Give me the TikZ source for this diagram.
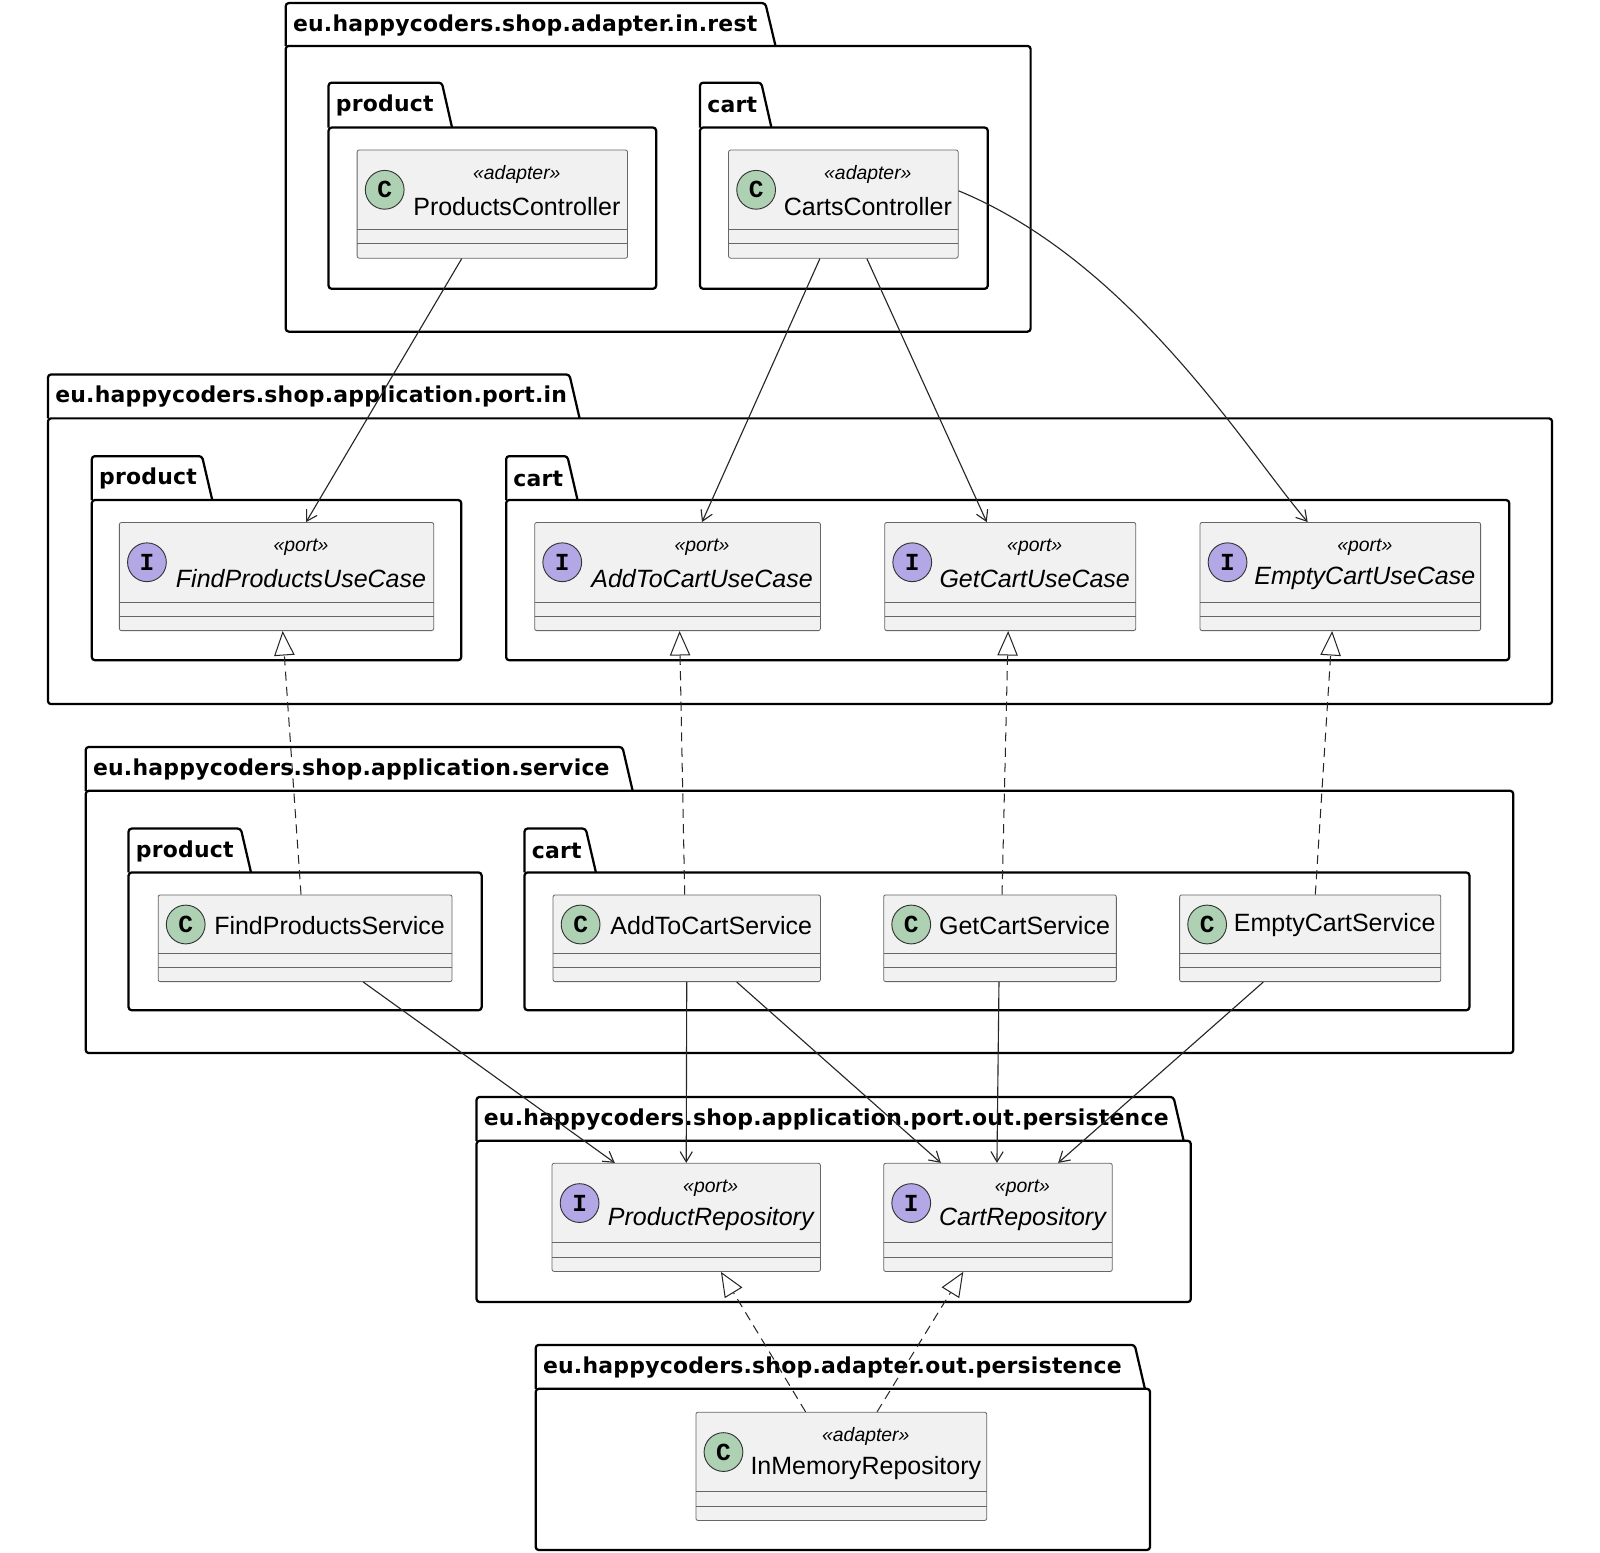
\documentclass[tikz,border=0pt]{standalone}
\usepackage{fontspec}
\setmainfont{Liberation Sans}
\newfontfamily\pkgfont[LetterSpace=1]{DejaVu Sans}
\newfontfamily\monofont{Liberation Mono}
\usetikzlibrary{arrows.meta,calc}
\definecolor{cfill}{HTML}{F1F1F1}
\definecolor{cC}{HTML}{ADD1B2}
\definecolor{cI}{HTML}{B4A7E5}
\tikzset{
 cls/.style={draw=black!60,fill=cfill,rounded corners=2pt,line width=0.8pt,inner sep=0},
 pk/.style={line width=2.2pt,rounded corners=3pt},
 dep/.style={-{Straight Barb[length=10pt,width=12pt]},line width=1.1pt,black!85},
 real/.style={-{Triangle[open,length=24pt,width=20pt]},dash pattern=on 9pt off 6pt,line width=1pt,black!85},
 spot/.style={circle,draw=black!80,line width=0.9pt,minimum size=38pt,inner sep=0,font=\fontsize{24}{24}\monofont\bfseries\selectfont},
}
\newcommand\pkg[7]{%
 \draw[pk] (#1,#4) -- (#1,#2) -- (#3-10,#2) -- (#3,#4);
 \draw[pk] (#1,#4) rectangle (#5,#6);
 \node[anchor=west,font=\fontsize{21.5}{21.5}\pkgfont\bfseries\selectfont,inner sep=0] at (#1+7,#2+22) {#7};
}
\newcommand\clsS[8]{%
 \pgfmathsetmacro\cx{(#2+#4)/2}\pgfmathsetmacro\cy{(#3+#5)/2}
 \pgfmathsetmacro\w{#4-#2}\pgfmathsetmacro\h{#5-#3}
 \pgfmathsetmacro\tx{(#2+48+#4)/2}
 \node[cls,minimum width=\w pt,minimum height=\h pt] (#1) at (\cx,\cy) {};
 \draw[black!60,line width=0.8pt] (#2,#5-28) -- (#4,#5-28) (#2,#5-14) -- (#4,#5-14);
 \node[spot,fill=c#6] at (#2+27,#3+39) {#6};
 \node[font=\fontsize{19}{19}\itshape\selectfont,inner sep=0] at (\tx,#3+24) {«#7»};
 \node[font=\fontsize{24.5}{24.5}\selectfont,inner sep=0] at (\tx,#3+55) {#8};
}
\newcommand\clsP[6]{%
 \pgfmathsetmacro\cx{(#2+#4)/2}\pgfmathsetmacro\cy{(#3+#5)/2}
 \pgfmathsetmacro\w{#4-#2}\pgfmathsetmacro\h{#5-#3}
 \pgfmathsetmacro\tx{(#2+48+#4)/2}
 \node[cls,minimum width=\w pt,minimum height=\h pt] (#1) at (\cx,\cy) {};
 \draw[black!60,line width=0.8pt] (#2,#5-28) -- (#4,#5-28) (#2,#5-14) -- (#4,#5-14);
 \node[spot,fill=cC] at (#2+27,#3+29) {C};
 \node[font=\fontsize{24.5}{24.5}\selectfont,inner sep=0] at (\tx,#3+30) {#6};
}
\begin{document}
\begin{tikzpicture}[x=1pt,y=-1pt]
\useasboundingbox[fill=white] (0,0) rectangle (1568,1521);
% packages
\pkg{280}{3}{760}{45}{1010}{325}{eu.happycoders.shop.adapter.in.rest}
\pkg{322}{81}{443}{125}{643}{283}{product}
\pkg{686}{81}{756}{125}{968}{283}{cart}
\pkg{47}{367}{568}{410}{1521}{690}{eu.happycoders.shop.application.port.in}
\pkg{90}{447}{208}{490}{452}{647}{product}
\pkg{496}{447}{566}{490}{1479}{647}{cart}
\pkg{84}{732}{620}{775}{1483}{1032}{eu.happycoders.shop.application.service}
\pkg{126}{812}{246}{855}{472}{990}{product}
\pkg{514}{812}{584}{855}{1440}{990}{cart}
\pkg{467}{1075}{1160}{1118}{1167}{1276}{eu.happycoders.shop.application.port.out.persistence}
\pkg{525}{1318}{1122}{1361}{1127}{1519}{eu.happycoders.shop.adapter.out.persistence}
% classes
\clsS{pc}{350}{147}{615}{253}{C}{adapter}{ProductsController}
\clsS{cc}{714}{147}{939}{253}{C}{adapter}{CartsController}
\clsS{fpu}{117}{512}{425}{618}{I}{port}{\itshape FindProductsUseCase}
\clsS{acu}{524}{512}{804}{618}{I}{port}{\itshape AddToCartUseCase}
\clsS{gcu}{867}{512}{1113}{618}{I}{port}{\itshape GetCartUseCase}
\clsS{ecu}{1176}{512}{1451}{618}{I}{port}{\itshape EmptyCartUseCase}
\clsP{fps}{155}{877}{443}{962}{FindProductsService}
\clsP{acs}{542}{877}{804}{962}{AddToCartService}
\clsP{gcs}{866}{877}{1094}{962}{GetCartService}
\clsP{ecs}{1156}{877}{1412}{962}{EmptyCartService}
\clsS{pr}{541}{1140}{804}{1246}{I}{port}{\itshape ProductRepository}
\clsS{cr}{866}{1140}{1090}{1246}{I}{port}{\itshape CartRepository}
\clsS{imr}{682}{1384}{967}{1490}{C}{adapter}{InMemoryRepository}
% dependencies
\draw[dep] ([xshift=-30pt]pc.south) -- ([xshift=29pt]fpu.north);
\draw[dep] ([xshift=-23pt]cc.south) -- ([xshift=24pt]acu.north);
\draw[dep] ([xshift=23pt]cc.south) -- ([xshift=-23pt]gcu.north);
\draw[dep] ([yshift=13pt]cc.east) .. controls +(170,70) and +(-60,-70) .. ([xshift=-32pt]ecu.north);
% realizations
\draw[real] ([xshift=-4pt]fps.north) -- ([xshift=6pt]fpu.south);
\draw[real] ([xshift=-2pt]acs.north) -- ([xshift=2pt]acu.south);
\draw[real] ([xshift=2pt]gcs.north) -- ([xshift=-2pt]gcu.south);
\draw[real] ([xshift=5pt]ecs.north) -- ([xshift=-8pt]ecu.south);
% to repositories
\draw[dep] ([xshift=57pt]fps.south) -- ([xshift=-70pt]pr.north);
\draw[dep] ([xshift=0pt]acs.south) -- ([xshift=0pt]pr.north);
\draw[dep] ([xshift=49pt]acs.south) -- ([xshift=-56pt]cr.north);
\draw[dep] ([xshift=-1pt]gcs.south) -- ([xshift=-1pt]cr.north);
\draw[dep] ([xshift=-46pt]ecs.south) -- ([xshift=59pt]cr.north);
\draw[real] ([xshift=-35pt]imr.north) -- ([xshift=34pt]pr.south);
\draw[real] ([xshift=35pt]imr.north) -- ([xshift=-34pt]cr.south);
\end{tikzpicture}
\end{document}
